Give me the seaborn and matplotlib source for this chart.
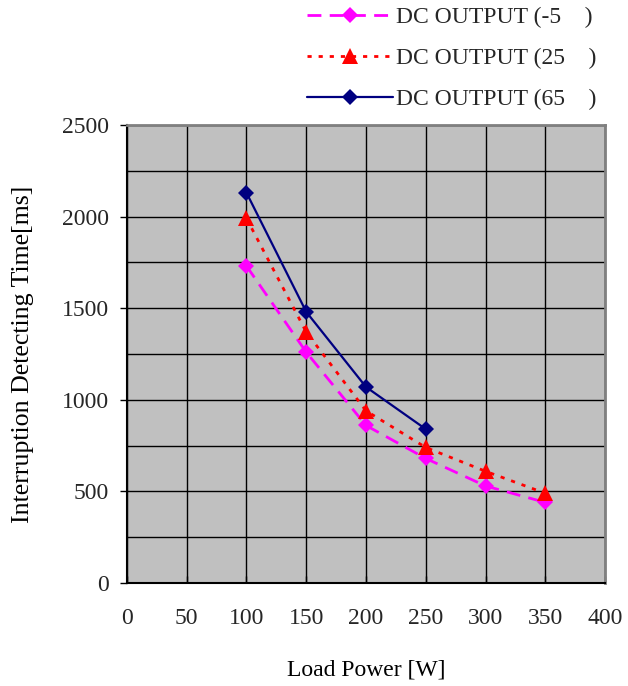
import matplotlib
matplotlib.use("Agg")
import matplotlib.pyplot as plt
import seaborn as sns

# Interruption detecting time vs. load power, per ambient temperature
load_minus5 = [100, 150, 200, 250, 300, 350]
time_minus5 = [1730, 1260, 860, 680, 530, 440]

load_25 = [100, 150, 200, 250, 300, 350]
time_25 = [1990, 1370, 940, 740, 610, 490]

load_65 = [100, 150, 200, 250]
time_65 = [2130, 1480, 1070, 840]

labels = ["DC OUTPUT (-5    )", "DC OUTPUT (25    )", "DC OUTPUT (65    )"]
x_ticks = [0, 50, 100, 150, 200, 250, 300, 350, 400]
y_ticks = [0, 500, 1000, 1500, 2000, 2500]

sns.set_theme(style="white")
plt.rcParams["font.family"] = ["Liberation Serif", "DejaVu Serif"]

fig = plt.figure(figsize=(6.28, 6.86), dpi=100)
ax = fig.add_axes([0.2022, 0.1501, 0.7612, 0.6677])
ax.set_facecolor("#C0C0C0")

sns.lineplot(x=load_minus5, y=time_minus5, ax=ax, color="#FF00FF",
             marker="D", markersize=8.5, markeredgewidth=0, linewidth=2.0,
             dashes=(5, 3), label=labels[0], zorder=3)
sns.lineplot(x=load_25, y=time_25, ax=ax, color="#FF0000",
             marker="^", markersize=11.5, markeredgewidth=0, linewidth=2.0,
             dashes=(1.5, 2.5), label=labels[1], zorder=4)
sns.lineplot(x=load_65, y=time_65, ax=ax, color="#000080",
             marker="D", markersize=8.5, markeredgewidth=0, linewidth=1.6,
             label=labels[2], zorder=5)

ax.set_xlim(0, 400)
ax.set_ylim(0, 2500)
ax.set_xticks(x_ticks)
ax.set_yticks(y_ticks)
ax.set_yticks(range(0, 2501, 250), minor=True)
ax.grid(True, which="major", color="black", linewidth=1.0)
ax.grid(True, which="minor", axis="y", color="black", linewidth=1.0)
ax.set_axisbelow(True)

ax.tick_params(axis="x", which="major", direction="in", length=5, width=1,
               color="black", labelsize=17, pad=18, bottom=True)
ax.tick_params(axis="y", which="major", direction="out", length=5, width=1,
               color="black", labelsize=17, pad=8, left=True)
ax.tick_params(axis="y", which="minor", length=0)

for side in ["left", "bottom"]:
    ax.spines[side].set_color("black")
    ax.spines[side].set_linewidth(1.5)
for side in ["top", "right"]:
    ax.spines[side].set_color("#808080")
    ax.spines[side].set_linewidth(2)

ax.set_xlabel("Load Power [W]", fontsize=17, labelpad=22, color="black")
ax.set_ylabel("Interruption Detecting Time[ms]", fontsize=18.6, labelpad=20,
              color="black")

ax.get_legend().remove()
handles, lbls = ax.get_legend_handles_labels()
fig.legend(handles, lbls, loc="upper left", bbox_to_anchor=(0.474, 1.004),
           frameon=False, fontsize=17, handlelength=3.65, handletextpad=0.1,
           labelspacing=0.82, borderaxespad=0)

fig.savefig("out.png", dpi=100, facecolor="white")
